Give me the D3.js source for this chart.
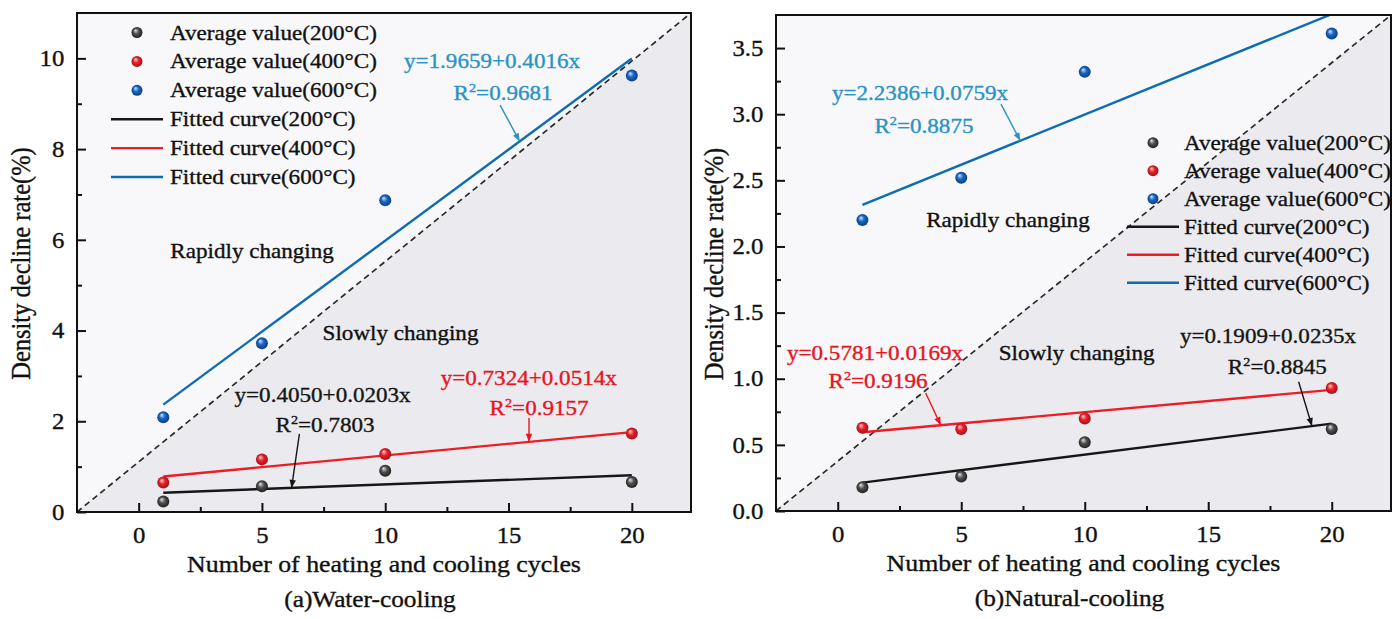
<!DOCTYPE html>
<html>
<head>
<meta charset="utf-8">
<script src="https://cdn.jsdelivr.net/npm/d3@7"></script>
<style>
  body { margin: 0; background: #fff; }
  svg { display: block; }
  text { font-family: "Liberation Serif", "Times New Roman", serif; fill: #111; stroke-width: 0.35px; }
</style>
</head>
<body>
<svg id="chart" width="1399" height="619"></svg>
<script>
// ---- data ----
const cycles = [1, 5, 10, 20];
const temps = ["200°C", "400°C", "600°C"];

const waterAvg200 = [0.23, 0.57, 0.91, 0.66];
const waterAvg400 = [0.65, 1.16, 1.28, 1.73];
const waterAvg600 = [2.09, 3.72, 6.87, 9.62];
const naturalAvg200 = [0.18, 0.26, 0.52, 0.62];
const naturalAvg400 = [0.63, 0.62, 0.70, 0.93];
const naturalAvg600 = [2.20, 2.52, 3.32, 3.61];

// fitted lines: [intercept, slope]
const waterFit = [[0.4050, 0.0203], [0.7324, 0.0514], [1.9659, 0.4016]];
const naturalFit = [[0.1909, 0.0235], [0.5781, 0.0169], [2.2386, 0.0759]];
const waterR2 = ["0.7803", "0.9157", "0.9681"];
const naturalR2 = ["0.8845", "0.9196", "0.8875"];

const xTicks = [0, 5, 10, 15, 20];
const xMinor = [2.5, 7.5, 12.5, 17.5];
const waterYTicks = [0, 2, 4, 6, 8, 10];
const waterYMinor = [1, 3, 5, 7, 9];
const naturalYTicks = [0.0, 0.5, 1.0, 1.5, 2.0, 2.5, 3.0, 3.5];
const naturalYMinor = [0.25, 0.75, 1.25, 1.75, 2.25, 2.75, 3.25];

// ---- styles ----
const lineColors = ["#161616", "#ee1d25", "#0e6cb2"];
const noteColors = ["#161616", "#e8141e", "#2a93c4"];
const ballColors = [
  ["#e6e6e6", "#505050", "#1a1a1a"],
  ["#ffd6d6", "#e8212a", "#9c0f17"],
  ["#d3e6ff", "#1766c2", "#0a3a7e"]
];
const SX = 1.1; // text in the figure is slightly wide

const svg = d3.select("#chart");
const defs = svg.append("defs");

ballColors.forEach((c, i) => {
  const gr = defs.append("radialGradient").attr("id", "ball" + i)
    .attr("cx", "50%").attr("cy", "50%").attr("r", "55%")
    .attr("fx", "35%").attr("fy", "30%");
  gr.append("stop").attr("offset", "0%").attr("stop-color", c[0]);
  gr.append("stop").attr("offset", "45%").attr("stop-color", c[1]);
  gr.append("stop").attr("offset", "100%").attr("stop-color", c[2]);
});
noteColors.forEach((c, i) => {
  defs.append("marker").attr("id", "arrow" + i)
    .attr("viewBox", "0 0 10 10").attr("refX", 10).attr("refY", 5)
    .attr("markerWidth", 9).attr("markerHeight", 8)
    .attr("markerUnits", "userSpaceOnUse").attr("orient", "auto")
    .append("path").attr("d", "M0,1 L10,5 L0,9 Z").attr("fill", c);
});

function label(g, x, y, str, size, anchor, color) {
  const c = color || "#111";
  return g.append("text")
    .attr("transform", `translate(${x},${y}) scale(${SX},1)`)
    .attr("text-anchor", anchor)
    .style("font-size", size + "px")
    .style("fill", c).style("stroke", c)
    .text(str);
}

function r2Label(g, x, y, val, color) {
  const t = g.append("text")
    .attr("transform", `translate(${x},${y}) scale(${SX},1)`)
    .attr("text-anchor", "middle")
    .style("font-size", "21px")
    .style("fill", color).style("stroke", color);
  t.append("tspan").text("R");
  t.append("tspan").attr("dy", -8).style("font-size", "13px").text("2");
  t.append("tspan").attr("dy", 8).text("=" + val);
}

const panels = [
  {
    id: "a", left: 77, right: 691, top: 13, bottom: 512, yMax: 11,
    yTicks: waterYTicks, yMinor: waterYMinor, yFmt: d3.format("d"),
    avg: [waterAvg200, waterAvg400, waterAvg600], fit: waterFit, r2: waterR2,
    caption: "(a)Water-cooling", titleX: 30,
    legend: { mx: 137, my: 32.5, step: 28.9, tx: 170 },
    notes: [
      { eq: [7.46, 2.43], r2: [7.56, 1.76], from: [6.52, 1.72], tipX: 6.2 },
      { eq: [15.82, 2.80], r2: [16.24, 2.14], from: [15.83, 2.07], tipX: 15.83 },
      { eq: [14.33, 9.79], r2: [14.78, 9.09], from: [14.66, 8.97], tipX: 15.45 }
    ],
    rapid: [4.6, 5.60], slow: [10.62, 3.79]
  },
  {
    id: "b", left: 776, right: 1391, top: 15, bottom: 511, yMax: 3.75,
    yTicks: naturalYTicks, yMinor: naturalYMinor, yFmt: d3.format(".1f"),
    avg: [naturalAvg200, naturalAvg400, naturalAvg600], fit: naturalFit, r2: naturalR2,
    caption: "(b)Natural-cooling", titleX: 723,
    legend: { mx: 1153, my: 142.7, step: 28, tx: 1184 },
    notes: [
      { eq: [17.42, 1.268], r2: [17.8, 1.036], from: [18.66, 0.977], tipX: 19.2 },
      { eq: [1.51, 1.14], r2: [1.63, 0.927], from: [3.56, 0.892], tipX: 4.17 },
      { eq: [3.33, 3.107], r2: [3.49, 2.855], from: [6.61, 3.076], tipX: 7.39 }
    ],
    rapid: [6.89, 2.149], slow: [9.67, 1.141]
  }
];

panels.forEach(p => {
  const x = d3.scaleLinear().domain([-2.5, 22.4]).range([p.left, p.right]);
  const y = d3.scaleLinear().domain([0, p.yMax]).range([p.bottom, p.top]);
  const [x0, x1] = x.domain();
  const [y0, y1] = y.domain();
  const g = svg.append("g");

  defs.append("clipPath").attr("id", "clip" + p.id)
    .append("rect").attr("x", p.left).attr("y", p.top)
    .attr("width", p.right - p.left).attr("height", p.bottom - p.top);

  // background: lighter above the diagonal, grey below
  g.append("rect").attr("x", p.left).attr("y", p.top)
    .attr("width", p.right - p.left).attr("height", p.bottom - p.top)
    .attr("fill", "#f8f8fa");
  g.append("path")
    .attr("d", `M${x(x0)},${y(y0)}L${x(x1)},${y(y1)}L${x(x1)},${y(y0)}Z`)
    .attr("fill", "#ebebef");
  g.append("line")
    .attr("x1", x(x0)).attr("y1", y(y0)).attr("x2", x(x1)).attr("y2", y(y1))
    .attr("stroke", "#2a2a2a").attr("stroke-width", 1.7).attr("stroke-dasharray", "6,4");

  // axes (ticks point inward)
  const xAxis = g.append("g").attr("transform", `translate(0,${p.bottom})`)
    .call(d3.axisBottom(x).tickValues(xTicks).tickSizeInner(-9).tickSizeOuter(0).tickPadding(15));
  g.append("g").attr("transform", `translate(0,${p.bottom})`)
    .call(d3.axisBottom(x).tickValues(xMinor).tickSizeInner(-5).tickSizeOuter(0).tickFormat(""));
  const yAxis = g.append("g").attr("transform", `translate(${p.left},0)`)
    .call(d3.axisLeft(y).tickValues(p.yTicks).tickFormat(p.yFmt).tickSizeInner(-9).tickSizeOuter(0).tickPadding(11.5));
  g.append("g").attr("transform", `translate(${p.left},0)`)
    .call(d3.axisLeft(y).tickValues(p.yMinor).tickSizeInner(-5).tickSizeOuter(0).tickFormat(""));
  g.selectAll(".domain").remove();
  g.selectAll(".tick line").attr("stroke", "#111").attr("stroke-width", 2);
  [xAxis, yAxis].forEach(a => a.selectAll("text")
    .attr("transform", `scale(${SX},1)`)
    .style("font-size", "22.5px")
    .style("font-family", '"Liberation Serif", "Times New Roman", serif')
    .style("stroke", "#111")
    .attr("fill", "#111"));

  // fitted lines
  const plot = g.append("g").attr("clip-path", `url(#clip${p.id})`);
  p.fit.forEach((f, i) => {
    const xs = [cycles[0], cycles[cycles.length - 1]];
    plot.append("path")
      .datum(xs)
      .attr("d", d3.line().x(d => x(d)).y(d => y(f[0] + f[1] * d)))
      .attr("fill", "none").attr("stroke", lineColors[i]).attr("stroke-width", 2.4);
  });

  // annotations
  p.notes.forEach((n, i) => {
    const f = p.fit[i];
    label(g, x(n.eq[0]), y(n.eq[1]),
      `y=${f[0].toFixed(4)}+${f[1].toFixed(4)}x`, 21, "middle", noteColors[i]);
    r2Label(g, x(n.r2[0]), y(n.r2[1]), p.r2[i], noteColors[i]);
    g.append("line")
      .attr("x1", x(n.from[0])).attr("y1", y(n.from[1]))
      .attr("x2", x(n.tipX)).attr("y2", y(f[0] + f[1] * n.tipX))
      .attr("stroke", noteColors[i]).attr("stroke-width", 1.4)
      .attr("marker-end", `url(#arrow${i})`);
  });
  label(g, x(p.rapid[0]), y(p.rapid[1]), "Rapidly changing", 21, "middle");
  label(g, x(p.slow[0]), y(p.slow[1]), "Slowly changing", 21, "middle");

  // average points
  p.avg.forEach((vals, i) => {
    plot.selectAll(null).data(vals).join("circle")
      .attr("cx", (d, k) => x(cycles[k])).attr("cy", d => y(d))
      .attr("r", 6).attr("fill", `url(#ball${i})`);
  });

  // legend
  const L = p.legend;
  temps.forEach((t, i) => {
    const cy = L.my + i * L.step;
    g.append("circle").attr("cx", L.mx).attr("cy", cy).attr("r", 5.5).attr("fill", `url(#ball${i})`);
    label(g, L.tx, cy + 7, `Average value(${t})`, 21, "start");
  });
  temps.forEach((t, i) => {
    const cy = L.my + (i + 3) * L.step;
    g.append("line").attr("x1", L.mx - 26).attr("x2", L.mx + 26).attr("y1", cy).attr("y2", cy)
      .attr("stroke", lineColors[i]).attr("stroke-width", 2.4);
    label(g, L.tx, cy + 7, `Fitted curve(${t})`, 21, "start");
  });

  // frame
  g.append("rect").attr("x", p.left).attr("y", p.top)
    .attr("width", p.right - p.left).attr("height", p.bottom - p.top)
    .attr("fill", "none").attr("stroke", "#111").attr("stroke-width", 2);

  // titles
  const cx = (p.left + p.right) / 2;
  label(g, cx, p.bottom + 60, "Number of heating and cooling cycles", 23.5, "middle");
  label(g, cx - 14, p.bottom + 95, p.caption, 23, "middle");
  g.append("text")
    .attr("transform", `translate(${p.titleX},${(p.top + p.bottom) / 2 + 1}) scale(1.08,1) rotate(-90)`)
    .attr("text-anchor", "middle")
    .style("font-size", "24.5px")
    .style("stroke", "#111")
    .text("Density decline rate(%)");
});
</script>
</body>
</html>
